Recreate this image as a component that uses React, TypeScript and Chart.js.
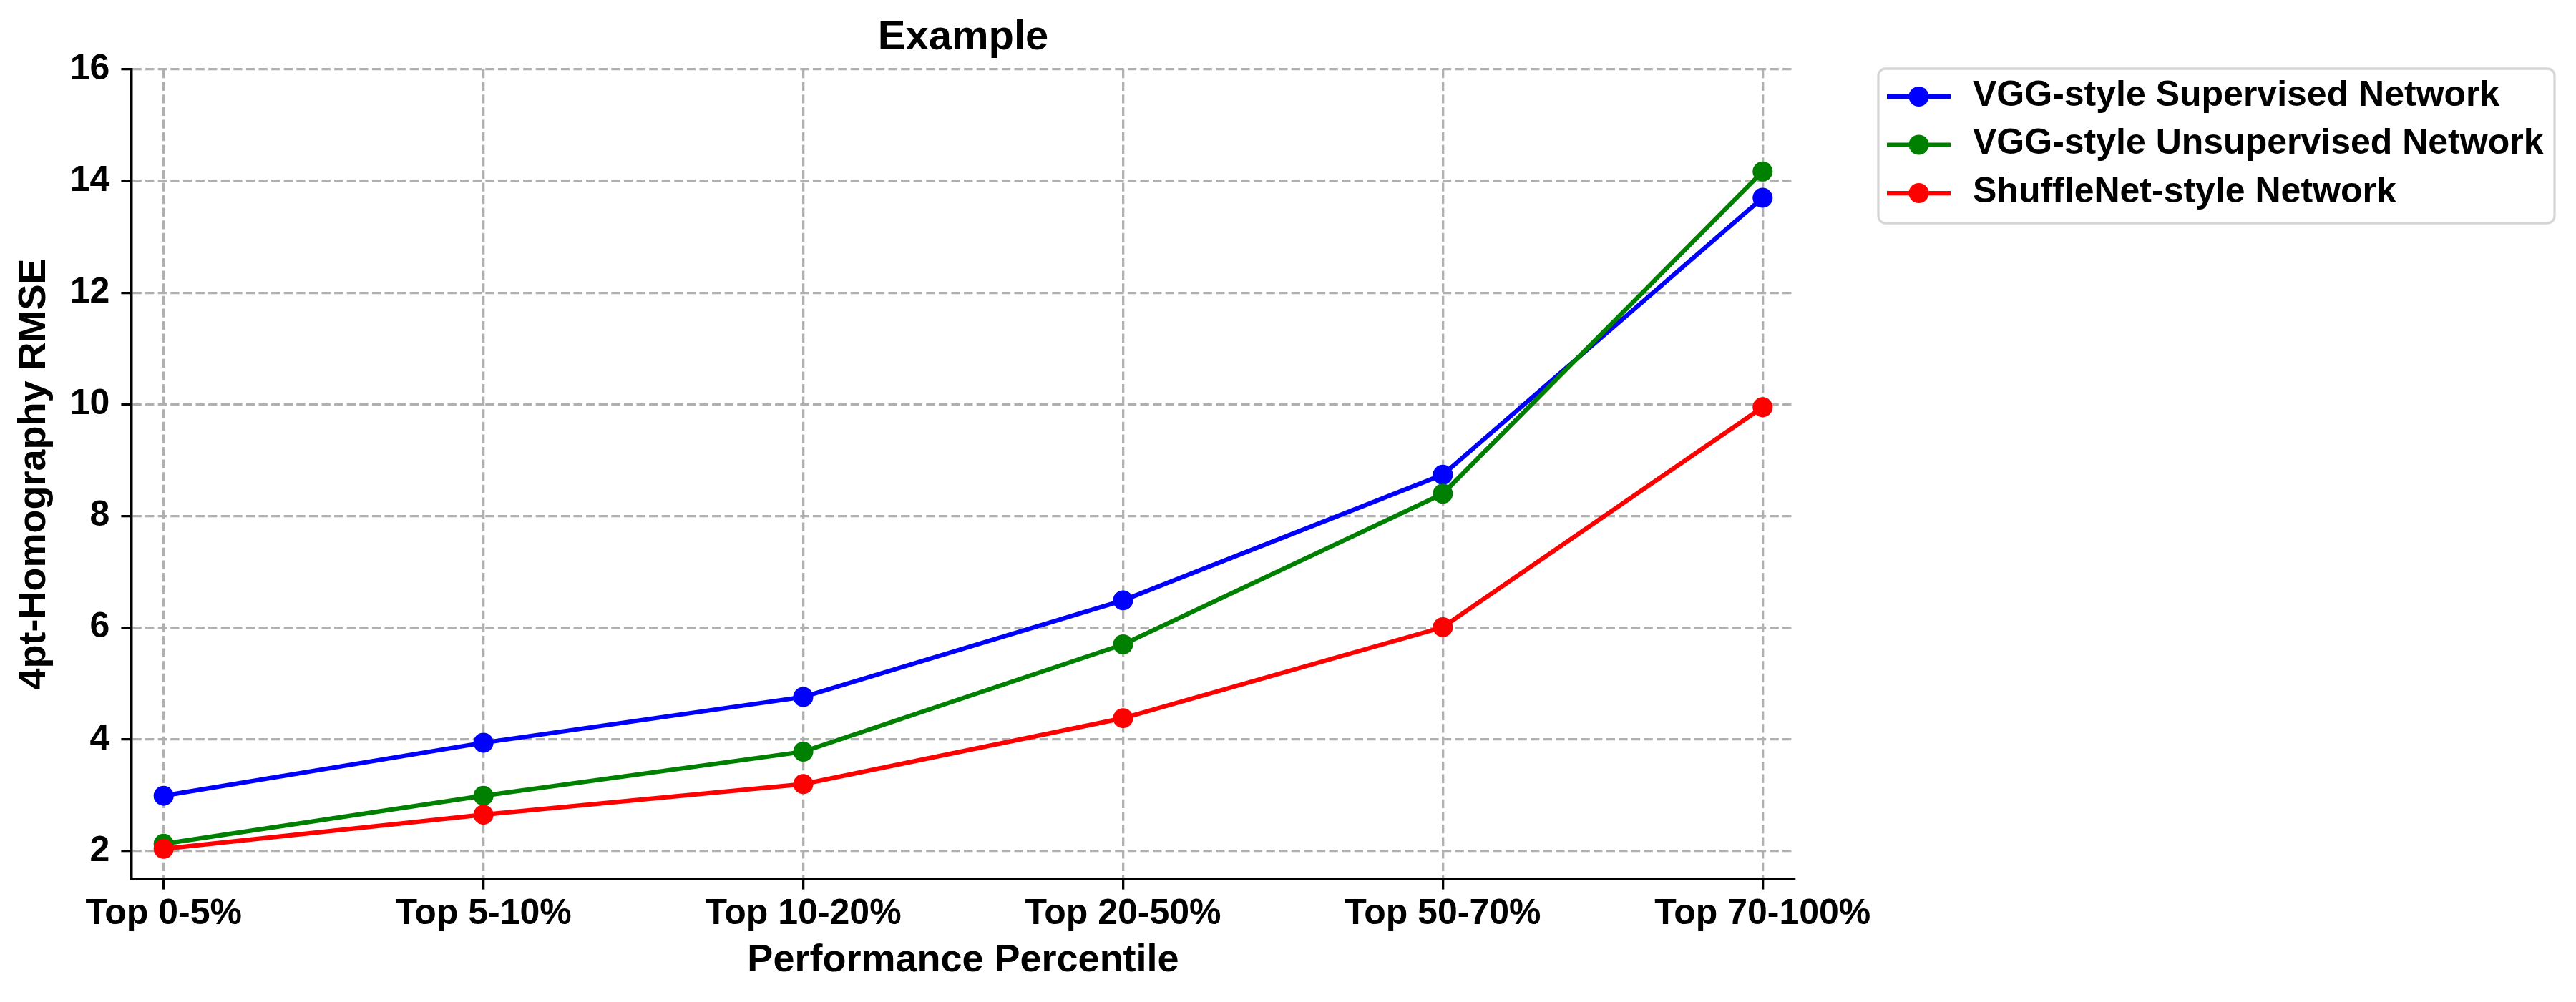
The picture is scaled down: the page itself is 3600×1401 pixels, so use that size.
import React, { useEffect, useRef } from 'react';
import { Chart, registerables } from 'chart.js';

Chart.register(...registerables);

// ---- data ----
const categories = ['Top 0-5%', 'Top 5-10%', 'Top 10-20%', 'Top 20-50%', 'Top 50-70%', 'Top 70-100%'];
const seriesNames = ['VGG-style Supervised Network', 'VGG-style Unsupervised Network', 'ShuffleNet-style Network'];
const supervised = [2.99, 3.94, 4.76, 6.49, 8.74, 13.7];
const unsupervised = [2.13, 2.99, 3.78, 5.7, 8.4, 14.17];
const shufflenet = [2.04, 2.65, 3.2, 4.38, 6.01, 9.95];
const seriesColors = ['#0000ff', '#008000', '#ff0000'];
const yTicks = [2, 4, 6, 8, 10, 12, 14, 16];
const chartTitle = 'Example';
const xTitle = 'Performance Percentile';
const yTitle = '4pt-Homography RMSE';

const FONT = '"Liberation Sans", Arial, Helvetica, sans-serif';

const legendPlugin = {
  id: 'mplLegend',
  afterDraw(chart: any) {
    const ctx = chart.ctx as CanvasRenderingContext2D;
    const area = chart.chartArea;
    const bx = area.right + 117;
    const by = area.top - 1;
    const bw = 945;
    const bh = 216;
    const r = 10;
    ctx.save();
    ctx.beginPath();
    ctx.moveTo(bx + r, by);
    ctx.lineTo(bx + bw - r, by);
    ctx.arcTo(bx + bw, by, bx + bw, by + r, r);
    ctx.lineTo(bx + bw, by + bh - r);
    ctx.arcTo(bx + bw, by + bh, bx + bw - r, by + bh, r);
    ctx.lineTo(bx + r, by + bh);
    ctx.arcTo(bx, by + bh, bx, by + bh - r, r);
    ctx.lineTo(bx, by + r);
    ctx.arcTo(bx, by, bx + r, by, r);
    ctx.closePath();
    ctx.fillStyle = 'rgba(255,255,255,0.8)';
    ctx.fill();
    ctx.strokeStyle = '#d6d6d6';
    ctx.lineWidth = 3.3;
    ctx.stroke();

    chart.data.datasets.forEach((ds: any, i: number) => {
      const y = by + 39 + i * 67.5;
      const x0 = bx + 12;
      const x1 = bx + 101;
      ctx.beginPath();
      ctx.strokeStyle = ds.borderColor;
      ctx.lineWidth = 6.25;
      ctx.moveTo(x0, y);
      ctx.lineTo(x1, y);
      ctx.stroke();
      ctx.beginPath();
      ctx.fillStyle = ds.borderColor;
      ctx.arc((x0 + x1) / 2, y, 14, 0, Math.PI * 2);
      ctx.fill();
      ctx.fillStyle = '#000';
      ctx.font = `bold 50px ${FONT}`;
      ctx.textAlign = 'left';
      ctx.textBaseline = 'middle';
      ctx.fillText(ds.label, bx + 132, y - 1);
    });
    ctx.restore();
  },
};

export default function App() {
  const canvasRef = useRef<HTMLCanvasElement | null>(null);

  useEffect(() => {
    document.body.style.margin = '0';
    const canvas = canvasRef.current;
    if (!canvas) return;
    const allSeries = [supervised, unsupervised, shufflenet];
    const datasets = allSeries.map((vals, si) => ({
      label: seriesNames[si],
      data: vals.map((v, i) => ({ x: i, y: v })),
      borderColor: seriesColors[si],
      backgroundColor: seriesColors[si],
      pointBackgroundColor: seriesColors[si],
      pointBorderColor: seriesColors[si],
      borderWidth: 6.25,
      pointRadius: 14,
      pointBorderWidth: 0,
      tension: 0,
      fill: false,
      order: 2 - si,
      clip: false as any,
    }));

    const gridCommon = {
      color: '#b0b0b0',
      lineWidth: 3.3,
      tickLength: 14.6,
      tickColor: '#000',
      tickWidth: 3.3,
      drawTicks: true,
      drawOnChartArea: true,
    };
    const borderCommon = { display: true, color: '#000', width: 3.5, dash: [12.3, 5.3] };

    const chart = new Chart(canvas, {
      type: 'line',
      data: { datasets },
      plugins: [legendPlugin],
      options: {
        responsive: false,
        animation: false,
        devicePixelRatio: 1,
        events: [],
        layout: { padding: { top: 0, right: 1092, bottom: 0, left: 0 } },
        plugins: {
          legend: { display: false },
          tooltip: { enabled: false },
          title: {
            display: true,
            text: chartTitle,
            fullSize: false,
            color: '#000',
            font: { family: FONT, size: 58, weight: 'bold', lineHeight: 1.2 },
            padding: { top: 18, bottom: 9.4 },
          },
        },
        scales: {
          x: {
            type: 'linear',
            min: -0.1,
            max: 5.1,
            afterBuildTicks: (axis: any) => {
              axis.ticks = categories.map((_, i) => ({ value: i }));
            },
            afterFit: (axis: any) => {
              axis.height = 172;
            },
            ticks: {
              callback: (v: any) => categories[Math.round(Number(v))] ?? '',
              color: '#000',
              font: { family: FONT, size: 50, weight: 'bold', lineHeight: 1.2 },
              padding: 5,
              maxRotation: 0,
              minRotation: 0,
              autoSkip: false,
            },
            grid: gridCommon,
            border: borderCommon,
            title: {
              display: true,
              text: xTitle,
              color: '#000',
              font: { family: FONT, size: 54, weight: 'bold', lineHeight: 1.2 },
              padding: { top: 0, bottom: 25.6 },
            },
          },
          y: {
            type: 'linear',
            min: 1.5,
            max: 16,
            afterBuildTicks: (axis: any) => {
              axis.ticks = yTicks.map((v) => ({ value: v }));
            },
            afterFit: (axis: any) => {
              axis.width = 184;
            },
            ticks: {
              color: '#000',
              font: { family: FONT, size: 50, weight: 'bold', lineHeight: 1.2 },
              padding: 16,
            },
            grid: gridCommon,
            border: borderCommon,
            title: {
              display: true,
              text: yTitle,
              color: '#000',
              font: { family: FONT, size: 54, weight: 'bold', lineHeight: 1.2 },
              padding: { top: 16, bottom: 0 },
            },
          },
        },
      } as any,
    });
    return () => {
      chart.destroy();
    };
  }, []);

  return (
    <div style={{ width: 3600, height: 1401, position: 'relative', background: '#fff' }}>
      <canvas ref={canvasRef} width={3600} height={1401} style={{ display: 'block' }} />
    </div>
  );
}
